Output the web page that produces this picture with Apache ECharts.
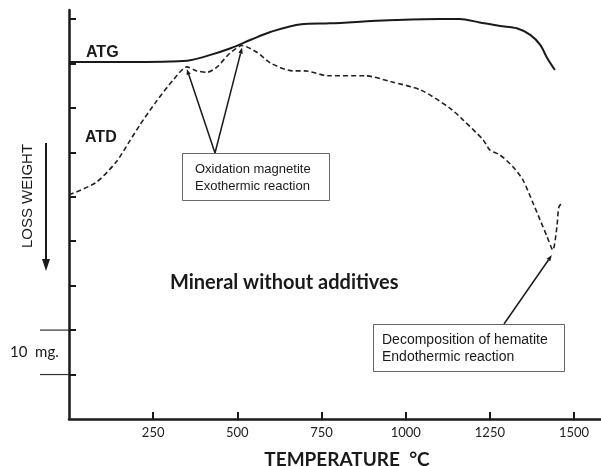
<!DOCTYPE html>
<html><head><meta charset="utf-8">
<script src="https://cdn.jsdelivr.net/npm/echarts@6/dist/echarts.min.js"></script>
<style>html,body{margin:0;padding:0;background:#fff}#c{width:601px;height:466px}</style>
</head><body><div id="c"></div>
<script>
// Tick positions
const tempTicks = [250, 500, 750, 1000, 1250, 1500];
const weightTicks = [1, 2, 3, 4, 5, 6, 7, 8, 9];
// ATG (thermogravimetric, solid)
const atgTemp = [0, 100, 200, 300, 360, 420, 480, 540, 600, 690, 775, 950, 1100, 1160, 1220, 1280, 1330, 1370, 1400, 1420, 1443];
const atgValue = [8.03, 8.03, 8.03, 8.04, 8.07, 8.19, 8.34, 8.53, 8.71, 8.88, 8.90, 8.97, 9.0, 9.0, 8.92, 8.84, 8.79, 8.64, 8.41, 8.12, 7.85];
// ATD (differential thermal, dashed)
const atdTemp = [0, 80, 140, 180, 211, 260, 309, 350, 380, 410, 440, 478, 514, 558, 600, 665, 700, 770, 880, 955, 1045, 1130, 1170, 1230, 1250, 1280, 1319, 1348, 1378, 1399, 1420, 1437, 1449, 1455, 1467];
const atdValue = [5.04, 5.32, 5.78, 6.25, 6.62, 7.15, 7.62, 7.92, 7.83, 7.80, 7.92, 8.23, 8.40, 8.25, 8.0, 7.83, 7.83, 7.72, 7.72, 7.59, 7.40, 7.0, 6.73, 6.28, 6.05, 5.94, 5.67, 5.38, 4.86, 4.48, 4.10, 3.80, 4.32, 4.77, 4.88];
// Annotated points (indices into ATD)
const exoPeaks = [7, 12];
const endoPeak = 31;
const scaleBar = [1, 2]; // 10 mg bracket

const chart = echarts.init(document.getElementById('c'), null, {renderer: 'canvas'});
const ink = '#1a1a1a';
chart.setOption({
  animation: false,
  backgroundColor: '#fff',
  grid: {left: 69, top: 10, width: 532, height: 409, containLabel: false, outerBoundsMode: 'none'},
  xAxis: {
    type: 'value', min: 0, max: 1580, interval: 250,
    name: 'TEMPERATURE  °C', nameLocation: 'middle', nameGap: 31,
    nameTextStyle: {fontFamily: 'Lato', fontWeight: 'bold', fontSize: 19, color: ink, padding: [0, 0, 0, 24]},
    axisLine: {lineStyle: {color: ink, width: 2.5}},
    axisTick: {inside: true, length: 7, customValues: tempTicks, lineStyle: {color: ink, width: 2}},
    axisLabel: {customValues: tempTicks, formatter: v => String(v), fontFamily: 'Lato', fontSize: 13, color: '#222', margin: 7},
    splitLine: {show: false}
  },
  yAxis: {
    type: 'value', min: 0, max: 9.2, interval: 1,
    axisLine: {show: true, onZero: false, lineStyle: {color: ink, width: 2.5}},
    axisTick: {show: true, inside: true, length: 7, customValues: weightTicks, lineStyle: {color: ink, width: 2}},
    axisLabel: {show: false},
    splitLine: {show: false}
  },
  series: [
    {name: 'ATG', type: 'line', showSymbol: false, smooth: 0.3,
     data: atgTemp.map((t, i) => [t, atgValue[i]]),
     lineStyle: {color: ink, width: 2}},
    {name: 'ATD', type: 'line', showSymbol: false, smooth: 0.25,
     data: atdTemp.map((t, i) => [t, atdValue[i]]),
     lineStyle: {color: '#222', width: 1.6, type: [5, 3]}}
  ]
});

function px(t, v) { return chart.convertToPixel({gridIndex: 0}, [t, v]); }
function arrow(x1, y1, x2, y2, len, w, lw) {
  const dx = x2 - x1, dy = y2 - y1, d = Math.hypot(dx, dy);
  const ux = dx / d, uy = dy / d;
  const bx = x2 - ux * len, by = y2 - uy * len;
  return [
    {type: 'line', shape: {x1: x1, y1: y1, x2: bx, y2: by}, style: {stroke: ink, lineWidth: lw}},
    {type: 'polygon', shape: {points: [[x2, y2], [bx - uy * w, by + ux * w], [bx + uy * w, by - ux * w]]}, style: {fill: ink}}
  ];
}
const g = [];
// curve labels
g.push({type: 'text', x: 86, y: 53, style: {text: 'ATG', font: 'bold 16px "Liberation Sans", Arial', fill: ink, verticalAlign: 'middle'}});
g.push({type: 'text', x: 85, y: 138, style: {text: 'ATD', font: 'bold 16px "Liberation Sans", Arial', fill: ink, verticalAlign: 'middle'}});
// exothermic box + arrows
const p1 = px(atdTemp[exoPeaks[0]], atdValue[exoPeaks[0]]);
const p2 = px(atdTemp[exoPeaks[1]], atdValue[exoPeaks[1]]);
g.push(...arrow(215, 153, p1[0], p1[1] + 2, 6, 2.2, 1.5));
g.push(...arrow(215, 153, p2[0], p2[1] + 2, 6, 2.2, 1.5));
g.push({type: 'rect', shape: {x: 182.5, y: 153.5, width: 147, height: 47}, style: {fill: '#fff', stroke: '#666', lineWidth: 1}});
g.push({type: 'text', x: 195, y: 169, style: {text: 'Oxidation magnetite', font: '13px "Liberation Sans", Arial', fill: ink, verticalAlign: 'middle'}});
g.push({type: 'text', x: 195, y: 186, style: {text: 'Exothermic reaction', font: '13px "Liberation Sans", Arial', fill: ink, verticalAlign: 'middle'}});
// endothermic box + arrow
const p3 = px(atdTemp[endoPeak], atdValue[endoPeak]);
g.push(...arrow(504, 324, p3[0] - 1, p3[1] + 5, 6, 2.2, 1.5));
g.push({type: 'rect', shape: {x: 373.5, y: 324.5, width: 191, height: 47}, style: {fill: '#fff', stroke: '#666', lineWidth: 1}});
g.push({type: 'text', x: 382, y: 340, style: {text: 'Decomposition of hematite', font: '14px "Liberation Sans", Arial', fill: ink, verticalAlign: 'middle'}});
g.push({type: 'text', x: 382, y: 357, style: {text: 'Endothermic reaction', font: '14px "Liberation Sans", Arial', fill: ink, verticalAlign: 'middle'}});
// title inside chart
g.push({type: 'text', x: 170, y: 283, style: {text: 'Mineral without additives', font: 'bold 20px Lato', fill: ink, verticalAlign: 'middle'}});
// y-axis label + arrow
g.push({type: 'text', x: 28, y: 196, rotation: Math.PI / 2, style: {text: 'LOSS WEIGHT', font: '15px "Liberation Sans", Arial', fill: ink, align: 'center', verticalAlign: 'middle'}});
g.push(...arrow(46, 143, 46, 271, 12, 4, 2));
// 10 mg scale bracket
const s1 = px(0, scaleBar[0]), s2 = px(0, scaleBar[1]);
g.push({type: 'line', shape: {x1: 40, y1: s1[1], x2: s1[0], y2: s1[1]}, style: {stroke: '#333', lineWidth: 1.2}});
g.push({type: 'line', shape: {x1: 40, y1: s2[1], x2: s2[0], y2: s2[1]}, style: {stroke: '#333', lineWidth: 1.2}});
g.push({type: 'text', x: 10, y: (s1[1] + s2[1]) / 2, style: {text: '10  mg.', font: '15px Lato', fill: ink, verticalAlign: 'middle'}});
chart.setOption({graphic: g});
</script></body></html>
